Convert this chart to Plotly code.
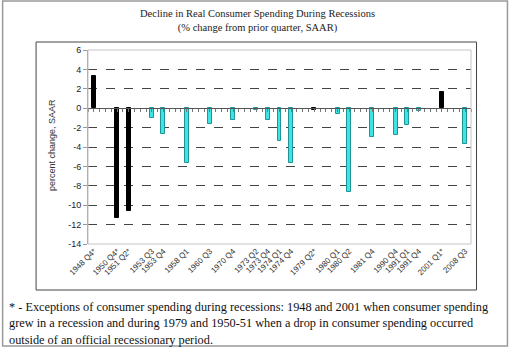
import plotly.graph_objects as go

# Recession quarters (None marks an empty category slot on the axis)
slots = [
    "1948 Q4*", None, "1950 Q4*", "1951 Q2*", None, "1953 Q3", "1953 Q4", None,
    "1958 Q1", None, "1960 Q3", None, "1970 Q4", None, "1973 Q2", "1973 Q4",
    "1974 Q1", "1974 Q4", None, "1979 Q2*", None, "1980 Q1", "1980 Q2", None,
    "1981 Q4", None, "1990 Q4", "1991 Q1", "1991 Q4", None, "2001 Q1*", None,
    "2008 Q3",
]
# Real consumer spending, % change from prior quarter, SAAR
values = [3.3, -11.3, -10.6, -1.0, -2.7, -5.6, -1.6, -1.2, -0.2, -1.2, -3.4,
          -5.6, -0.2, -0.6, -8.6, -3.0, -2.8, -1.7, -0.3, 1.7, -3.7]
# Quarters that are exceptions (drawn in black)
exceptions = {"1948 Q4*", "1950 Q4*", "1951 Q2*", "1979 Q2*", "2001 Q1*"}

y_ticks = list(range(-14, 7, 2))

labels = [s for s in slots if s is not None]
xpos = [i for i, s in enumerate(slots) if s is not None]

W, H = 510, 347
ML, MR, MT, MB = 88, 38.5, 50, 103
PW, PH = W - ML - MR, H - MT - MB


def px_x(px):
    return (px - ML) / PW


def px_y(py):
    return (H - py - MB) / PH


fill = ["#000000" if l in exceptions else "#3fe3e3" for l in labels]
edge = ["#000000" if l in exceptions else "#1f9696" for l in labels]

fig = go.Figure()
fig.add_trace(go.Bar(
    x=xpos, y=values, width=0.34,
    marker=dict(color=fill, line=dict(color=edge, width=1)),
    hoverinfo="skip", showlegend=False,
))
# invisible trace on the tick-only axis running along zero
fig.add_trace(go.Scatter(x=[xpos[0]], y=[0], xaxis="x2", mode="markers",
                         marker=dict(opacity=0), showlegend=False, hoverinfo="skip"))

ymin, ymax = y_ticks[0], y_ticks[-1]
zero_pos = (0 - ymin) / (ymax - ymin)

fig.update_layout(
    width=W, height=H,
    margin=dict(l=ML, r=MR, t=MT, b=MB),
    paper_bgcolor="white", plot_bgcolor="white",
    bargap=0,
    xaxis=dict(
        range=[-0.5, len(slots) - 0.5],
        tickmode="array", tickvals=xpos, ticktext=labels,
        tickangle=-45, ticks="", showgrid=False, zeroline=False,
        showline=False,
        tickfont=dict(family="Liberation Sans, Arial", size=8, color="#333"),
    ),
    xaxis2=dict(
        matches="x", overlaying="x", anchor="free", position=zero_pos,
        showticklabels=False, showgrid=False, zeroline=False,
        showline=True, linecolor="#555", linewidth=1,
        ticks="outside", ticklen=3, tickcolor="#777", tickwidth=1,
        tickmode="linear", tick0=-0.5, dtick=0.5,
    ),
    yaxis=dict(
        range=[ymin, ymax], tickmode="array", tickvals=y_ticks,
        ticktext=[str(v) for v in y_ticks],
        showgrid=True, gridcolor="#444", griddash="dash", gridwidth=1,
        zeroline=False,
        showline=True, linecolor="#999", linewidth=1,
        ticks="outside", ticklen=4, tickcolor="#999",
        tickfont=dict(family="Liberation Sans, Arial", size=9, color="#222"),
    ),
    font=dict(family="Liberation Sans, Arial"),
)

shapes = [
    # plot area border
    dict(type="rect", xref="paper", yref="paper", x0=0, x1=1, y0=0, y1=1,
         line=dict(color="#c4c4c4", width=1), layer="above"),
    # chart box
    dict(type="rect", xref="paper", yref="paper",
         x0=px_x(36), x1=px_x(477), y0=px_y(290), y1=px_y(42),
         line=dict(color="#444", width=1)),
    # outer frame
    dict(type="rect", xref="paper", yref="paper",
         x0=px_x(2.5), x1=px_x(508), y0=px_y(346), y1=px_y(1),
         line=dict(color="#9a9a9a", width=1.5)),
]
fig.update_layout(shapes=shapes)

serif = "Liberation Serif, Times New Roman"
annotations = [
    dict(text="Decline in Real Consumer Spending During Recessions<br>(% change from prior quarter, SAAR)",
         x=px_x(258), y=px_y(21), xref="paper", yref="paper",
         showarrow=False, xanchor="center", yanchor="middle",
         font=dict(family=serif, size=10.5, color="#222")),
    dict(text="percent change, SAAR", textangle=-90,
         x=px_x(52), y=px_y(145), xref="paper", yref="paper",
         showarrow=False, xanchor="center", yanchor="middle",
         font=dict(family="Liberation Sans, Arial", size=9, color="#333")),
]
foot = [
    "* - Exceptions of consumer spending during recessions: 1948 and 2001 when consumer spending",
    "grew in a recession and during 1979 and 1950-51 when a drop in consumer spending occurred",
    "outside of an official recessionary period.",
]
for i, line in enumerate(foot):
    annotations.append(dict(
        text=line, x=px_x(7), y=px_y(306.5 + 16.5 * i), xref="paper", yref="paper",
        showarrow=False, xanchor="left", yanchor="middle",
        font=dict(family=serif, size=12.3, color="#111")))
fig.update_layout(annotations=annotations)

fig.write_html("out.html")
